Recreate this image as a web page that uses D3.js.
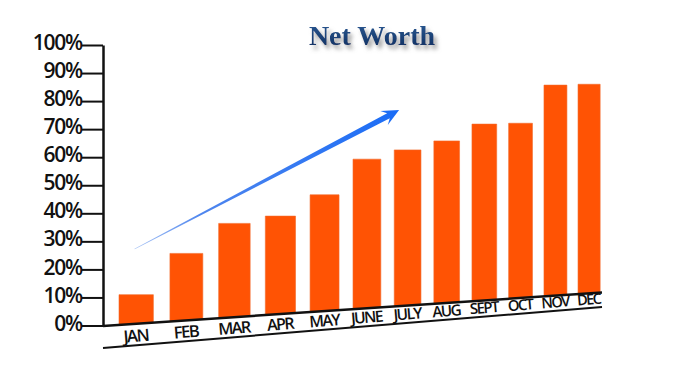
<!DOCTYPE html>
<html>
<head>
<meta charset="utf-8">
<script src="https://cdn.jsdelivr.net/npm/d3@7"></script>
<style>
body { margin: 0; background: #fff; }
svg { display: block; }
</style>
</head>
<body>
<svg id="mainSvg" width="688" height="377"></svg>
<script>
// chart data
var months = ["JAN", "FEB", "MAR", "APR", "MAY", "JUNE", "JULY", "AUG", "SEPT", "OCT", "NOV", "DEC"];
var netWorth = [11, 25.7, 36.4, 39, 46.6, 59.3, 62.6, 65.8, 71.8, 72.1, 85.7, 86];
var yTicks = [0, 10, 20, 30, 40, 50, 60, 70, 80, 90, 100];
var chartTitle = "Net Worth";
// trend arrow: [month, position inside band, value]
var arrowFrom = ["JAN", 0.45, 27.3];
var arrowTo = ["JULY", 0.18, 76.8];

var axisX = 103;
var pad = 0.33;

var mainSvg = d3.select("#mainSvg");
var defs = mainSvg.append("defs");

// perspective: bars get narrower toward the right
var xBand = d3.scaleBand().domain(months).range([0, months.length - pad]).paddingInner(pad).paddingOuter(0);
var persp_x0 = 119, persp_A = 52.08, persp_m = 0.02255;
function px(u)
{
	return persp_x0 + persp_A * u / (1 + persp_m * u);
}
var y = d3.scaleLinear().domain([0, 100]).range([325.5, 45]);

// sloped floor lines
var base = {x1: axisX, y1: 326, x2: 602, y2: 292.5};
var lower = {x1: axisX, y1: 348, x2: 602, y2: 307};
function lineY(l, x)
{
	return l.y1 + (x - l.x1) * (l.y2 - l.y1) / (l.x2 - l.x1);
}
var slopeDeg = Math.atan((lower.y2 - lower.y1) / (lower.x2 - lower.x1)) * 180 / Math.PI;

// title
var tg = defs.append("linearGradient").attr("id", "titleGrad").attr("x1", 0).attr("y1", 0).attr("x2", 0).attr("y2", 1);
tg.append("stop").attr("offset", "0%").attr("stop-color", "#2d5d98");
tg.append("stop").attr("offset", "100%").attr("stop-color", "#0d2b5c");
var sh = defs.append("filter").attr("id", "titleShadow").attr("x", "-10%").attr("y", "-30%").attr("width", "130%").attr("height", "170%");
sh.append("feDropShadow").attr("dx", 3).attr("dy", 4).attr("stdDeviation", 2).attr("flood-color", "#777").attr("flood-opacity", 0.7);
mainSvg.append("text").attr("x", 372).attr("y", 45).attr("text-anchor", "middle")
	.attr("font-family", "Liberation Serif, Times New Roman, serif").attr("font-weight", "bold").attr("font-size", "28px")
	.attr("fill", "url(#titleGrad)").attr("filter", "url(#titleShadow)").text(chartTitle);

// bars
var bars = months.map(function(m, i) {
	var xl = px(xBand(m)), xr = px(xBand(m) + xBand.bandwidth());
	return {m: m, v: netWorth[i], xl: xl, xr: xr};
});
mainSvg.selectAll(".bar").data(bars).enter().append("polygon").attr("class", "bar")
	.attr("points", function(d) {
		return [[d.xl, y(d.v)], [d.xr, y(d.v)], [d.xr, lineY(base, d.xr)], [d.xl, lineY(base, d.xl)]].join(" ");
	})
	.attr("fill", "#ff5304").attr("stroke", "#f26a2a").attr("stroke-width", 0.6);

// y axis
var yAxis = d3.axisLeft(y).tickValues(yTicks).tickFormat(function(d) { return d + "%"; }).tickSize(21).tickSizeOuter(0).tickPadding(0);
var gy = mainSvg.append("g").attr("transform", "translate(" + axisX + ",0)").call(yAxis);
gy.select(".domain").attr("stroke", "#111").attr("stroke-width", 2.5);
gy.selectAll(".tick line").attr("stroke", "#111").attr("stroke-width", 2);
gy.selectAll(".tick text").attr("dy", "0.22em").attr("fill", "#111")
	.attr("font-family", "Open Sans, sans-serif").attr("font-weight", 600).attr("font-size", "21px").attr("letter-spacing", "-1.2px");

// floor lines
mainSvg.append("line").attr("x1", base.x1).attr("y1", base.y1).attr("x2", base.x2).attr("y2", base.y2)
	.attr("stroke", "#111").attr("stroke-width", 2.5);
mainSvg.append("line").attr("x1", lower.x1).attr("y1", lower.y1).attr("x2", lower.x2).attr("y2", lower.y2)
	.attr("stroke", "#111").attr("stroke-width", 2);

// month labels along the floor
var fs = d3.scaleLinear().domain([px(0), px(months.length)]).range([17, 14.5]);
mainSvg.selectAll(".mlabel").data(bars).enter().append("text").attr("class", "mlabel")
	.attr("transform", function(d) {
		var cx = (d.xl + d.xr) / 2;
		return "translate(" + cx + "," + (lineY(lower, cx) - 3.5) + ") rotate(" + slopeDeg + ")";
	})
	.attr("text-anchor", "middle").attr("font-family", "Open Sans, sans-serif").attr("font-weight", 600)
	.attr("font-size", function(d) { return fs((d.xl + d.xr) / 2) + "px"; })
	.attr("letter-spacing", "-1.6px").attr("fill", "#111")
	.text(function(d) { return d.m; });

// trend arrow
var tail = [px(xBand(arrowFrom[0]) + arrowFrom[1] * xBand.bandwidth()), y(arrowFrom[2])];
var tip = [px(xBand(arrowTo[0]) + arrowTo[1] * xBand.bandwidth()), y(arrowTo[2])];
var dx = tip[0] - tail[0], dy = tip[1] - tail[1], len = Math.sqrt(dx * dx + dy * dy);
var ux = dx / len, uy = dy / len, nx = -uy, ny = ux;
function pt(along, side)
{
	return [tip[0] - ux * along + nx * side, tip[1] - uy * along + ny * side];
}
var ag = defs.append("linearGradient").attr("id", "arrowGrad").attr("gradientUnits", "userSpaceOnUse")
	.attr("x1", tail[0]).attr("y1", tail[1]).attr("x2", tip[0]).attr("y2", tip[1]);
ag.append("stop").attr("offset", "0%").attr("stop-color", "#a9c4f5");
ag.append("stop").attr("offset", "25%").attr("stop-color", "#4f86ee");
ag.append("stop").attr("offset", "100%").attr("stop-color", "#1a6cf6");
var arrowPts = [pt(len, 0.3), pt(12, 2.8), pt(17, 8), pt(0, 0), pt(17, -8), pt(12, -2.8), pt(len, -0.3)];
mainSvg.append("polygon").attr("points", arrowPts.join(" ")).attr("fill", "url(#arrowGrad)");
</script>
</body>
</html>
